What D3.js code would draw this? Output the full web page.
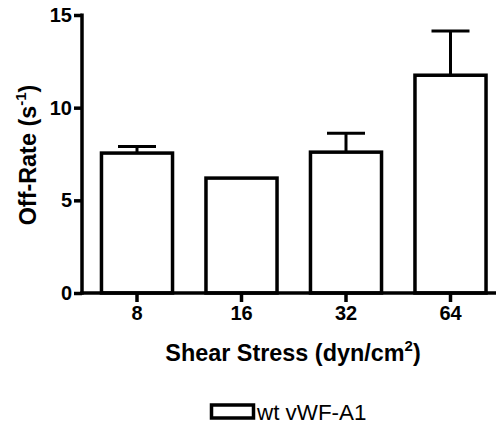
<!DOCTYPE html>
<html><head><meta charset="utf-8">
<script src="https://cdn.jsdelivr.net/npm/d3@7"></script>
<style>body{margin:0;background:#fff}svg{display:block}</style>
</head><body>
<script>
const categories = ["8", "16", "32", "64"];
const values = [7.55, 6.2, 7.6, 11.75];
const errors = [0.35, 0, 1.02, 2.38];
const yTicks = [0, 5, 10, 15];
const seriesName = "wt vWF-A1";

const W = 496, H = 425;
const svg = d3.select("body").append("svg").attr("width", W).attr("height", H);
const font = "'Liberation Sans', Arial, sans-serif";

const y = d3.scaleLinear().domain([0, 15]).range([293, 15]);
const x = d3.scaleBand().domain(categories).range([84.75, 502.75]).paddingInner(0.32).paddingOuter(0.16);

// bars
svg.append("g").selectAll("rect").data(values).join("rect")
  .attr("x", (d, i) => x(categories[i]))
  .attr("width", x.bandwidth())
  .attr("y", d => y(d))
  .attr("height", d => y(0) - y(d))
  .attr("fill", "#fff").attr("stroke", "#000").attr("stroke-width", 3.5);

// error bars
const eg = svg.append("g").attr("stroke", "#000").attr("stroke-width", 3);
values.forEach((v, i) => {
  if (!errors[i]) return;
  const cx = x(categories[i]) + x.bandwidth() / 2;
  eg.append("line").attr("x1", cx).attr("x2", cx).attr("y1", y(v)).attr("y2", y(v + errors[i]));
  eg.append("line").attr("x1", cx - 19).attr("x2", cx + 19).attr("y1", y(v + errors[i])).attr("y2", y(v + errors[i]));
});

// y axis
const yAxis = d3.axisLeft(y).tickValues(yTicks).tickSize(8).tickPadding(2).tickSizeOuter(0);
const gy = svg.append("g").attr("transform", "translate(82,0)").call(yAxis);
gy.select(".domain").attr("stroke-width", 3.5).attr("d", "M0," + (y(15) - 1.5) + "V" + (y(0) + 1.75));
gy.selectAll(".tick line").attr("stroke-width", 3.5);
gy.selectAll(".tick text").attr("font-family", font).attr("font-weight", "bold").attr("font-size", 20).attr("fill", "#000");

// x axis
const xAxis = d3.axisBottom(x).tickSize(9).tickPadding(4).tickSizeOuter(0);
const gx = svg.append("g").attr("transform", "translate(0,293)").call(xAxis);
gx.select(".domain").attr("stroke-width", 3.5).attr("d", "M80.25,0H496");
gx.selectAll(".tick line").attr("stroke-width", 3.5);
gx.selectAll(".tick text").attr("font-family", font).attr("font-weight", "bold").attr("font-size", 20).attr("fill", "#000");

// x title
const xt = svg.append("text").attr("x", 293).attr("y", 361).attr("text-anchor", "middle")
  .attr("font-family", font).attr("font-weight", "bold").attr("font-size", 23.4);
xt.append("tspan").text("Shear Stress (dyn/cm");
xt.append("tspan").text("2").attr("font-size", 15).attr("dy", -10);
xt.append("tspan").text(")").attr("dy", 10);

// y title
const yt = svg.append("text").attr("transform", "translate(36,155) rotate(-90)").attr("text-anchor", "middle")
  .attr("font-family", font).attr("font-weight", "bold").attr("font-size", 23.4);
yt.append("tspan").text("Off-Rate (s");
yt.append("tspan").text("-1").attr("font-size", 15).attr("dy", -10);
yt.append("tspan").text(")").attr("dy", 10);

// legend
svg.append("rect").attr("x", 211.5).attr("y", 405).attr("width", 42).attr("height", 13)
  .attr("fill", "#fff").attr("stroke", "#000").attr("stroke-width", 3.5);
svg.append("text").attr("x", 257).attr("y", 419.5).attr("font-family", font).attr("font-size", 22.4).text(seriesName);
</script>
</body></html>
